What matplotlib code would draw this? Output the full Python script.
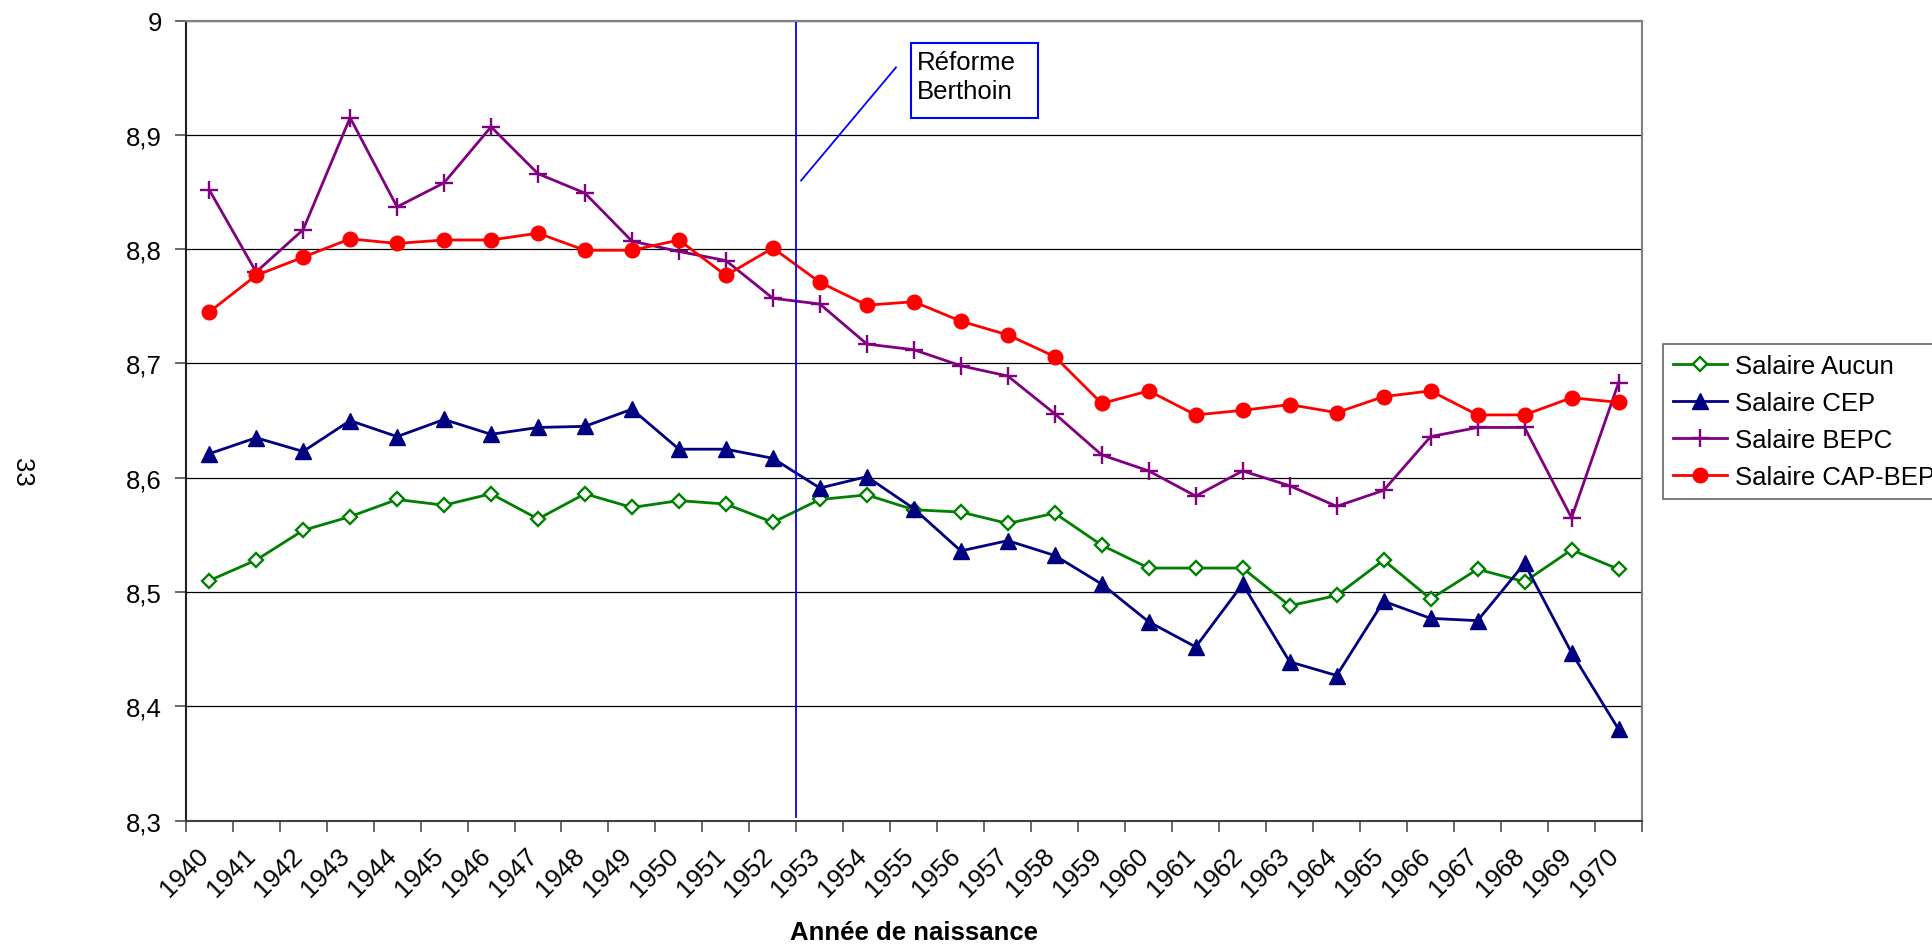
import matplotlib
matplotlib.use("Agg")
import matplotlib.pyplot as plt
import matplotlib.ticker as mticker
from matplotlib.patches import Rectangle
from matplotlib.transforms import ScaledTranslation

plt.rcParams['font.family'] = ['Liberation Sans', 'DejaVu Sans']

# donnees
annees = list(range(1940, 1971))
aucun = [8.510, 8.528, 8.554, 8.566, 8.581, 8.576, 8.586, 8.564, 8.586, 8.574,
         8.580, 8.577, 8.561, 8.581, 8.585, 8.572, 8.570, 8.560, 8.569, 8.541,
         8.521, 8.521, 8.521, 8.488, 8.497, 8.528, 8.494, 8.520, 8.509, 8.537, 8.520]
cep = [8.621, 8.635, 8.623, 8.650, 8.636, 8.651, 8.638, 8.644, 8.645, 8.660,
       8.625, 8.625, 8.617, 8.591, 8.601, 8.573, 8.536, 8.545, 8.532, 8.507,
       8.474, 8.452, 8.507, 8.439, 8.427, 8.492, 8.477, 8.475, 8.525, 8.447, 8.380]
bepc = [8.852, 8.780, 8.817, 8.915, 8.837, 8.858, 8.907, 8.866, 8.849, 8.807,
        8.798, 8.790, 8.757, 8.752, 8.717, 8.712, 8.698, 8.689, 8.656, 8.620,
        8.606, 8.584, 8.606, 8.593, 8.575, 8.589, 8.636, 8.644, 8.644, 8.565, 8.683]
cap_bep = [8.745, 8.777, 8.793, 8.809, 8.805, 8.808, 8.808, 8.814, 8.799, 8.799,
           8.808, 8.777, 8.801, 8.771, 8.751, 8.754, 8.737, 8.725, 8.706, 8.665,
           8.676, 8.655, 8.659, 8.664, 8.657, 8.671, 8.676, 8.655, 8.655, 8.670, 8.666]
annee_reforme = 1953

x = list(range(len(annees)))
fs = 18.5

fig = plt.figure(figsize=(19.32, 9.45), dpi=100)
ax = fig.add_axes([0.0961, 0.1305, 0.7538, 0.8467])

ax.plot(x, aucun, color='#008000', lw=2.0, marker='D', ms=7.5, mfc='white', mec='#008000', mew=1.7,
        label='Salaire Aucun')
ax.plot(x, cep, color='#000080', lw=2.0, marker='^', ms=11, mfc='#000080', mec='#000080',
        label='Salaire CEP')
ax.plot(x, bepc, color='#800080', lw=2.0, marker='+', ms=13, mew=1.7,
        label='Salaire BEPC')
ax.plot(x, cap_bep, color='#FF0000', lw=2.0, marker='o', ms=10.5, mfc='#FF0000', mec='#FF0000',
        label='Salaire CAP-BEP')

# ligne verticale reforme Berthoin
xr = annees.index(annee_reforme) - 0.5
ax.plot([xr, xr], [8.303, 9.0], color='#0000FF', lw=1.3)
ax.plot([12.60, 14.62], [8.860, 8.959], color='#0000FF', lw=1.3)
ax.add_patch(Rectangle((14.94, 8.915), 2.70, 0.065, fc='white', ec='#0000FF', lw=1.5, zorder=5))
ax.text(15.06, 8.9745, 'Réforme\nBerthoin', fontsize=fs, ha='left', va='top',
        linespacing=1.3, zorder=6)

ax.set_xlim(-0.5, len(annees) - 0.5)
ax.set_ylim(8.3, 9.0)

ax.set_yticks([8.3, 8.4, 8.5, 8.6, 8.7, 8.8, 8.9, 9.0])
ax.yaxis.set_major_formatter(mticker.FuncFormatter(lambda v, p: ('%g' % round(v, 1)).replace('.', ',')))
ax.grid(axis='y', color='black', lw=0.9)
ax.set_axisbelow(True)

ax.set_xticks(x)
ax.set_xticklabels([str(a) for a in annees], rotation=45, ha='right', va='center',
                   rotation_mode='anchor')
ax.set_xticks([i - 0.5 for i in range(len(annees) + 1)], minor=True)
ax.tick_params(axis='x', which='major', length=0, pad=22, labelsize=fs)
ax.tick_params(axis='x', which='minor', length=8, width=1.1, direction='out', color='#404040')
ax.tick_params(axis='y', length=8, width=1.1, pad=9, labelsize=fs, color='#404040')
off = ScaledTranslation(-0.04, 0, fig.dpi_scale_trans)
for lbl in ax.get_xticklabels():
    lbl.set_transform(lbl.get_transform() + off)

ax.spines['left'].set_color('#202020')
ax.spines['bottom'].set_color('#404040')
ax.spines['top'].set_color('#808080')
ax.spines['right'].set_color('#808080')
for s in ax.spines.values():
    s.set_linewidth(1.5)

ax.set_xlabel('Année de naissance', fontsize=fs, fontweight='bold', va='center')
ax.xaxis.set_label_coords(0.5, -0.139)

fig.text(22 / 1932, 1 - 472 / 945, '33', rotation=270, fontsize=fs, ha='center', va='center')

leg = ax.legend(loc='upper left', bbox_to_anchor=(1663 / 1932, 1 - 345 / 945),
                bbox_transform=fig.transFigure, borderaxespad=0, fontsize=fs,
                frameon=True, fancybox=False, handlelength=2.1, handletextpad=0.3,
                labelspacing=0.5, borderpad=0.4)
leg.get_frame().set_edgecolor('#404040')
leg.get_frame().set_linewidth(1.2)

fig.savefig('out.png', dpi=100)
